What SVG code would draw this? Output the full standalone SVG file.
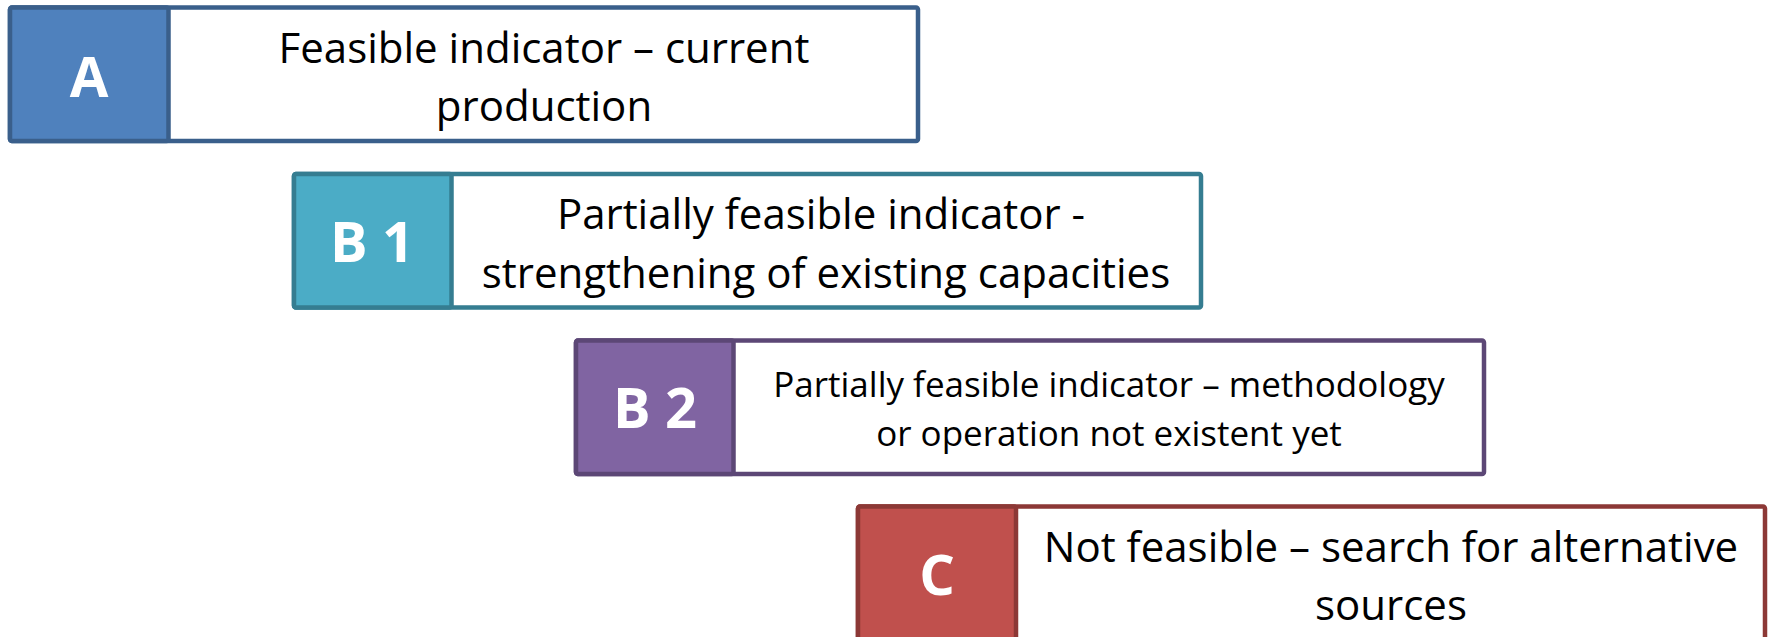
<svg xmlns="http://www.w3.org/2000/svg" width="1768" height="637" viewBox="0 0 1768 637">
<style>
.box{fill:#ffffff;stroke-width:4.5}
.tag{stroke-width:4.5}
.lbl{font-family:"Open Sans","Liberation Sans",sans-serif;font-weight:bold;fill:#ffffff;text-anchor:middle;font-size:56px}
.txt{font-family:"Open Sans","Liberation Sans",sans-serif;fill:#000000;text-anchor:middle;font-size:42px}
.sm{font-size:35px}
</style>
<rect width="1768" height="637" fill="#ffffff"/>
<g id="nodeA">
<rect class="box" x="10" y="7.5" width="908" height="133.5" rx="2" stroke="#3A5F8B"/>
<rect class="tag" x="10" y="7.5" width="158.5" height="133.5" rx="2" fill="#4F81BD" stroke="#3A5F8B"/>
<text class="lbl" x="89" y="97">A</text>
<text class="txt" x="544" y="63">Feasible indicator – current</text>
<text class="txt" x="544" y="121">production</text>
</g>
<g id="nodeB1">
<rect class="box" x="294" y="174" width="907" height="133.5" rx="2" stroke="#357D91"/>
<rect class="tag" x="294" y="174" width="157.5" height="133.5" rx="2" fill="#4BACC6" stroke="#357D91"/>
<text class="lbl" x="372" y="262">B 1</text>
<text class="txt" x="821" y="229">Partially feasible indicator -</text>
<text class="txt" x="826" y="288">strengthening of existing capacities</text>
</g>
<g id="nodeB2">
<rect class="box" x="576" y="340.5" width="908" height="133.5" rx="2" stroke="#5C4776"/>
<rect class="tag" x="576" y="340.5" width="157.5" height="133.5" rx="2" fill="#8064A2" stroke="#5C4776"/>
<text class="lbl" x="655" y="428">B 2</text>
<text class="txt sm" x="1109" y="397">Partially feasible indicator – methodology</text>
<text class="txt sm" x="1109" y="446">or operation not existent yet</text>
</g>
<g id="nodeC">
<rect class="box" x="858" y="506.5" width="907" height="133.5" rx="2" stroke="#8C3836"/>
<rect class="tag" x="858" y="506.5" width="158" height="133.5" rx="2" fill="#C0504D" stroke="#8C3836"/>
<text class="lbl" x="937" y="595">C</text>
<text class="txt" x="1391" y="562">Not feasible – search for alternative</text>
<text class="txt" x="1391" y="620">sources</text>
</g>
<g id="connectors"/>
</svg>
